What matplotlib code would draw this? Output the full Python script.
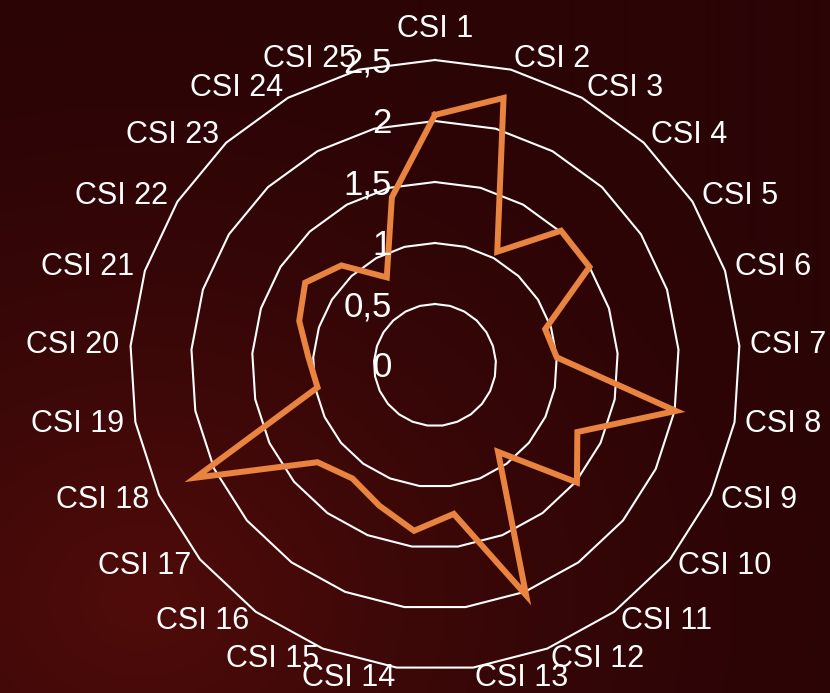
import numpy as np
import matplotlib.pyplot as plt
from matplotlib.transforms import offset_copy

plt.rcParams['font.family'] = ['Liberation Sans', 'DejaVu Sans']

# data
categories = ["CSI 1", "CSI 2", "CSI 3", "CSI 4", "CSI 5", "CSI 6", "CSI 7",
              "CSI 8", "CSI 9", "CSI 10", "CSI 11", "CSI 12", "CSI 13",
              "CSI 14", "CSI 15", "CSI 16", "CSI 17", "CSI 18", "CSI 19",
              "CSI 20", "CSI 21", "CSI 22", "CSI 23", "CSI 24", "CSI 25"]
values = [2.05, 2.26, 1.06, 1.51, 1.50, 0.95, 1.00, 2.01, 1.29, 1.51,
          0.88, 2.03, 1.23, 1.37, 1.24, 1.15, 1.25, 2.17, 0.98, 1.04,
          1.17, 1.26, 1.12, 0.82, 1.42]
r_ticks = [0, 0.5, 1, 1.5, 2, 2.5]
r_tick_labels = ["0", "0,5", "1", "1,5", "2", "2,5"]

line_color = '#E8843F'
txt_color = 'white'
cat_size = 22
val_size = 25

fig = plt.figure(figsize=(8.3, 6.93), dpi=100)

# dark red background with a soft glow at lower left
bg = fig.add_axes([0, 0, 1, 1])
h, w = 693, 830
yy, xx = np.mgrid[0:h, 0:w]
d = np.hypot((xx - 140) / w, (yy - 600) / h)
t = np.clip(1 - d / 0.9, 0, 1) ** 1.6
base = np.array([0x2b, 0x04, 0x06]) / 255
glow = np.array([0x50, 0x0c, 0x0a]) / 255
img = base + (glow - base) * t[..., None]
bg.imshow(img, aspect='auto', extent=[0, 1, 0, 1])
bg.axis('off')

ax = fig.add_axes([0.1566, 0.0332, 0.7349, 0.8802], projection='polar')
ax.set_facecolor('none')
ax.set_theta_zero_location('N')
ax.set_theta_direction(-1)
ax.set_ylim(0, 2.5)
ax.grid(False)
ax.set_xticks([])
ax.set_yticks([])
ax.spines['polar'].set_visible(False)

n = len(categories)
angles = np.linspace(0, 2 * np.pi, n, endpoint=False)
closed = np.append(angles, angles[0])

# polygon gridlines
for r in r_ticks[1:]:
    ax.plot(closed, [r] * (n + 1), color='white', lw=1.5, clip_on=False, zorder=1)

ax.plot(closed, values + values[:1], color=line_color, lw=4.3,
        solid_joinstyle='miter', clip_on=False, zorder=3)

# category labels
for ang, lab in zip(angles, categories):
    s, c = np.sin(ang), np.cos(ang)
    if abs(s) < 0.05:
        ha = 'center'
        va = 'bottom' if c > 0 else 'top'
        rr = 2.63
    else:
        ha = 'left' if s > 0 else 'right'
        va = 'center'
        rr = 2.59
    ax.text(ang, rr, lab, ha=ha, va=va, color=txt_color, fontsize=cat_size,
            clip_on=False, zorder=4)

# radial value labels, digits centred on their ring
tr = offset_copy(ax.transData, fig=fig, x=-43, y=-12.4, units='dots')
for r, lab in zip(r_ticks, r_tick_labels):
    ax.text(0, r, lab, transform=tr, ha='right', va='baseline',
            color=txt_color, fontsize=val_size, clip_on=False, zorder=5)

fig.savefig('out.png', dpi=100)
